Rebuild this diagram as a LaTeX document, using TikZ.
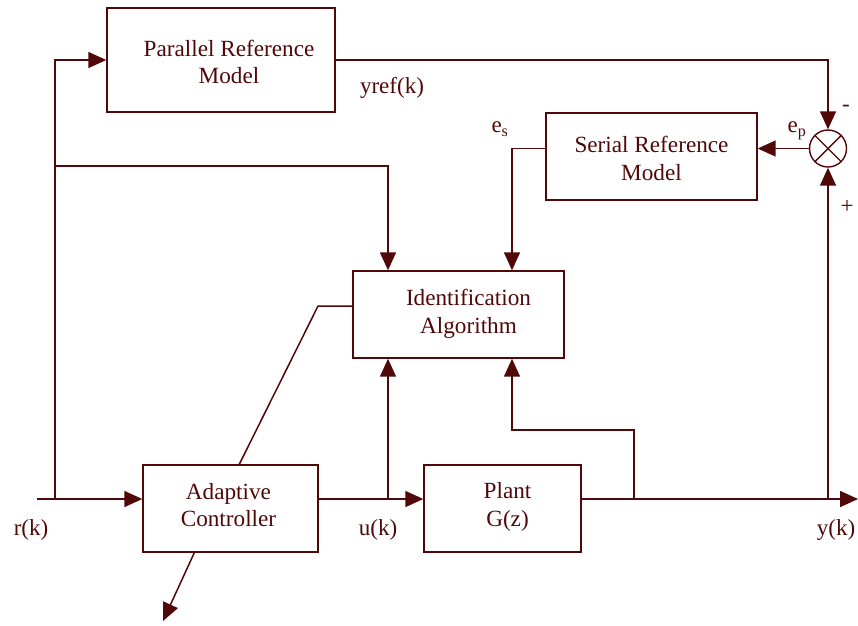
\documentclass[tikz,border=0pt]{standalone}
\usepackage{fontspec}
\setmainfont{Liberation Serif}
\usetikzlibrary{arrows.meta,calc}
\definecolor{ink}{RGB}{80,8,8}
\begin{document}
\begin{tikzpicture}[x=1pt,y=-1pt,
  every node/.style={text=ink},
  blk/.style={draw=ink, line width=1.4pt, rectangle, inner sep=0pt},
  txt/.style={align=center, inner sep=0pt, font=\fontsize{23.2}{27.5}\selectfont},
  lbl/.style={font=\fontsize{23}{26}\selectfont, inner sep=0pt},
  wire/.style={draw=ink, line width=1.5pt},
  arr/.style={wire, -{Triangle[length=18pt,width=16pt]}}]
\useasboundingbox (0,0) rectangle (858,625);

% blocks
\node[blk, minimum width=228pt, minimum height=104pt] (pm) at (221,60) {};
\node[blk, minimum width=211pt, minimum height=87pt] (srm) at (651.5,156.5) {};
\node[blk, minimum width=211pt, minimum height=87pt] (ia) at (458.5,314.5) {};
\node[blk, minimum width=175pt, minimum height=87pt] (ac) at (230.5,508.5) {};
\node[blk, minimum width=157pt, minimum height=87pt] (pl) at (502.5,508.5) {};
\node[draw=ink, line width=1.4pt, circle, minimum size=37pt, inner sep=0pt] (sum) at (828,148.5) {};
\draw[ink, line width=1.4pt] (sum.north east) -- (sum.south west) (sum.north west) -- (sum.south east);

% block captions
\node[txt] (pmt) at ($(pm.center)+(8,2)$) {Parallel Reference\\Model};
\node[txt] (srmt) at ($(srm.center)+(0,2)$) {Serial Reference\\Model};
\node[txt] (iat) at ($(ia.center)+(10,-0.5)$) {Identification\\Algorithm};
\node[txt] (act) at ($(ac.center)+(-2,-3.5)$) {Adaptive\\Controller};
\node[txt] (plt) at ($(pl.center)+(5,-1.5)$) {Plant\\G(z)};

% junction points
\coordinate (rin) at (37,499);
\coordinate (jr) at (55,499);
\coordinate (ja) at (55,166);
\coordinate (ju) at (388,499);
\coordinate (jy) at (634,499);
\coordinate (fb) at (512,430);
\coordinate (es) at (512,148.5);
\coordinate (jo) at (828,499);
\coordinate (yout) at (858,499);
\coordinate (kk) at (318,306);
\coordinate (dn) at (163,621);

% signal paths
\draw[arr] (rin) -- (rin -| ac.west);
\draw[arr] (jr) |- (pm.west);
\draw[arr] (ja) -| (ia.north -| ju);
\draw[arr] (pm.east) -| (sum.north);
\draw[arr] (sum.west) -- (sum.west -| srm.east);
\draw[arr] (es -| srm.west) -- (es) -- (es |- ia.north);
\draw[arr] (ju -| ac.east) -- (ju -| pl.west);
\draw[arr] (ju) -- (ju |- ia.south);
\draw[arr] (ju -| pl.east) -- (yout);
\draw[arr] (jy) |- (fb) -- (fb |- ia.south);
\draw[arr] (jo) -- (sum.south);
\draw[wire] ($(ac.north west)+(97,0)$) -- (kk) -- (kk -| ia.west);
\draw[arr] ([xshift=52pt]ac.south west) -- (dn);

% labels
\node[lbl] (lyref) at (392,88) {yref(k)};
\node[lbl] (lep) at (797,131) {e\textsubscript{p}};
\node[lbl] (lminus) at (846,108) {-};
\node[lbl] (lplus) at (847,207) {+};
\node[lbl] (les) at (500,129) {e\textsubscript{s}};
\node[lbl] (lu) at (378,530) {u(k)};
\node[lbl] (lr) at (31,530) {r(k)};
\node[lbl] (ly) at (836,530) {y(k)};
\end{tikzpicture}
\end{document}
